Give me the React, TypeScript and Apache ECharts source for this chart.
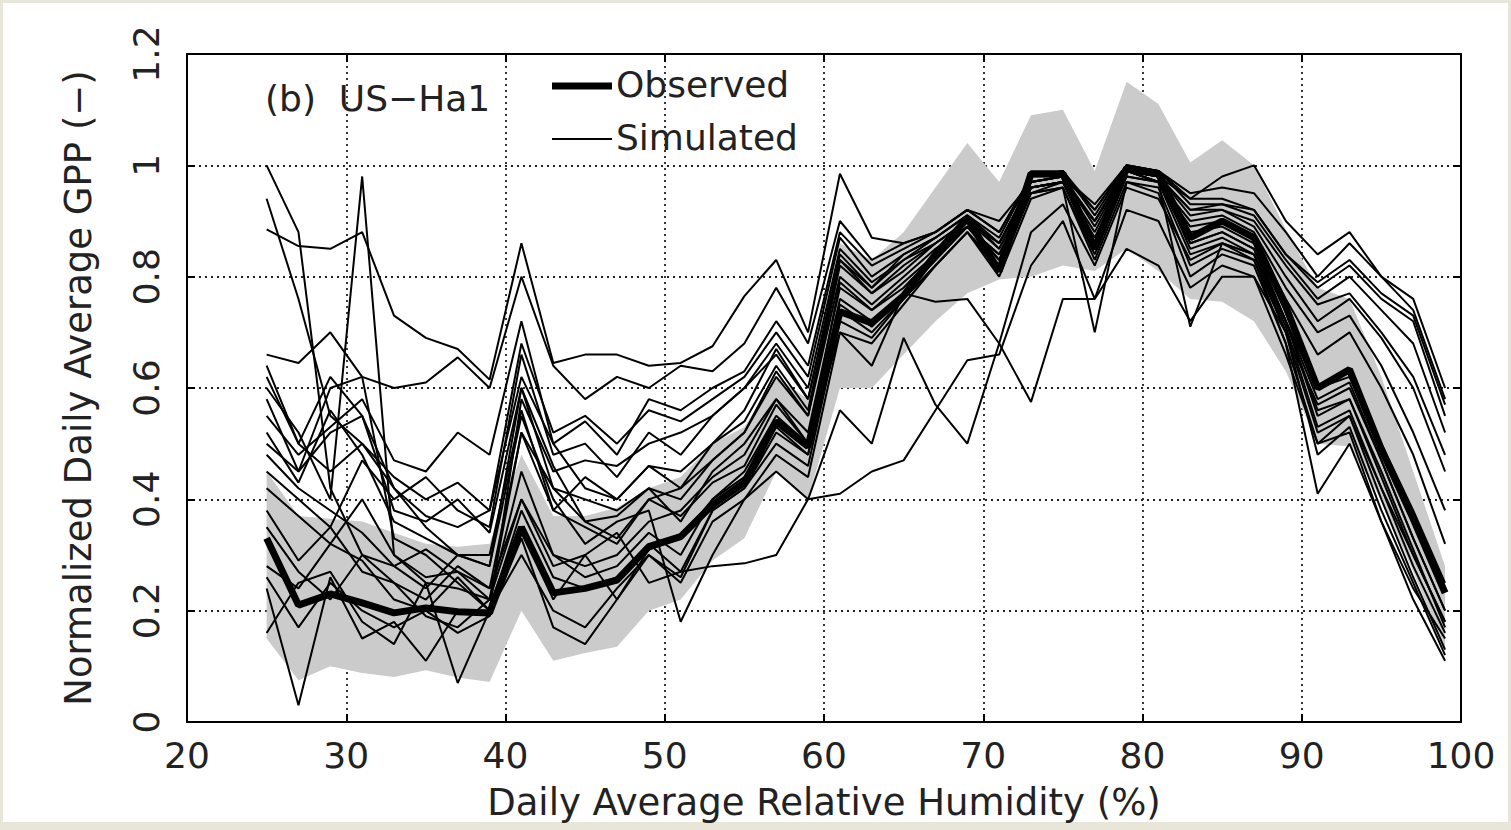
import React, { useEffect, useRef } from "react";
import * as echarts from "echarts";

const humidity = [25,27,29,31,33,35,37,39,41,43,45,47,49,51,53,55,57,59,61,63,65,67,69,71,73,75,77,79,81,83,85,87,89,91,93,95,97,99];

const observed = [0.33,0.21,0.23,0.214,0.196,0.205,0.198,0.196,0.35,0.232,0.24,0.255,0.315,0.333,0.39,0.43,0.54,0.495,0.737,0.717,0.766,0.84,0.905,0.81,0.985,0.985,0.85,0.995,0.985,0.87,0.9,0.87,0.746,0.6,0.633,0.49,0.365,0.232];

const bandUpper = [0.45,0.37,0.365,0.36,0.34,0.32,0.315,0.32,0.48,0.37,0.37,0.385,0.42,0.44,0.5,0.53,0.62,0.58,0.86,0.83,0.88,0.96,1.04,0.97,1.09,1.1,0.99,1.15,1.11,1.005,1.045,1.0,0.885,0.78,0.76,0.62,0.45,0.28];
const bandLower = [0.15,0.075,0.1,0.088,0.081,0.093,0.08,0.072,0.2,0.11,0.124,0.135,0.2,0.22,0.29,0.33,0.45,0.4,0.6,0.6,0.66,0.72,0.77,0.795,0.8,0.82,0.81,0.85,0.81,0.76,0.755,0.72,0.63,0.5,0.495,0.4,0.27,0.13];

const sim01 = [1.00,0.88,0.42,0.30,0.28,0.31,0.27,0.22,0.52,0.42,0.36,0.33,0.40,0.42,0.47,0.52,0.63,0.55,0.80,0.75,0.80,0.85,0.89,0.84,0.95,0.97,0.87,0.99,0.97,0.88,0.89,0.86,0.72,0.58,0.61,0.47,0.33,0.20];
const sim02 = [0.94,0.76,0.55,0.50,0.44,0.40,0.43,0.38,0.62,0.50,0.42,0.40,0.46,0.45,0.50,0.56,0.67,0.58,0.84,0.78,0.83,0.87,0.91,0.86,0.96,0.97,0.90,1.00,0.98,0.92,0.92,0.90,0.82,0.75,0.77,0.70,0.62,0.48];
const sim03 = [0.885,0.855,0.85,0.88,0.73,0.69,0.67,0.615,0.86,0.645,0.66,0.66,0.64,0.645,0.675,0.765,0.83,0.70,0.985,0.87,0.86,0.88,0.92,0.90,0.97,0.98,0.93,1.00,0.99,0.95,0.96,0.95,0.88,0.80,0.86,0.80,0.74,0.58];
const sim04 = [0.60,0.52,0.40,0.98,0.30,0.25,0.24,0.22,0.45,0.30,0.28,0.30,0.36,0.38,0.44,0.48,0.58,0.52,0.78,0.74,0.79,0.84,0.90,0.83,0.97,0.98,0.86,0.99,0.98,0.86,0.88,0.85,0.72,0.56,0.58,0.44,0.30,0.18];
const sim05 = [0.66,0.645,0.70,0.62,0.60,0.61,0.655,0.60,0.80,0.64,0.58,0.62,0.60,0.64,0.63,0.68,0.78,0.68,0.90,0.83,0.86,0.88,0.92,0.88,0.98,0.99,0.91,1.00,0.99,0.93,0.93,0.92,0.84,0.78,0.82,0.76,0.72,0.55];
const sim06 = [0.64,0.50,0.62,0.55,0.42,0.37,0.35,0.38,0.68,0.52,0.55,0.50,0.56,0.54,0.58,0.62,0.70,0.62,0.87,0.80,0.84,0.87,0.91,0.87,0.98,0.98,0.92,1.00,0.98,0.92,0.93,0.91,0.83,0.76,0.80,0.74,0.68,0.52];
const sim07 = [0.58,0.45,0.60,0.62,0.33,0.30,0.25,0.20,0.58,0.45,0.47,0.46,0.50,0.52,0.55,0.60,0.68,0.60,0.85,0.79,0.83,0.86,0.90,0.86,0.97,0.98,0.90,0.99,0.97,0.90,0.91,0.88,0.78,0.70,0.73,0.64,0.52,0.38];
const sim08 = [0.55,0.48,0.53,0.58,0.47,0.45,0.52,0.48,0.72,0.50,0.54,0.48,0.58,0.56,0.60,0.63,0.72,0.64,0.88,0.82,0.85,0.88,0.92,0.88,0.98,0.99,0.92,1.00,0.99,0.94,0.94,0.92,0.84,0.79,0.83,0.77,0.73,0.57];
const sim09 = [0.52,0.43,0.56,0.48,0.36,0.33,0.30,0.28,0.60,0.46,0.36,0.37,0.42,0.40,0.47,0.52,0.62,0.55,0.82,0.77,0.81,0.86,0.90,0.85,0.96,0.97,0.88,0.99,0.97,0.89,0.90,0.87,0.76,0.66,0.70,0.60,0.48,0.32];
const sim10 = [0.45,0.40,0.35,0.47,0.40,0.44,0.38,0.35,0.66,0.48,0.50,0.44,0.52,0.48,0.55,0.60,0.66,0.58,0.83,0.77,0.82,0.86,0.90,0.86,0.97,0.98,0.89,0.99,0.98,0.91,0.92,0.89,0.80,0.72,0.76,0.69,0.60,0.45];
const sim11 = [0.42,0.37,0.32,0.40,0.30,0.26,0.27,0.24,0.52,0.38,0.35,0.32,0.40,0.37,0.43,0.46,0.57,0.50,0.79,0.74,0.78,0.84,0.89,0.84,0.96,0.97,0.86,0.99,0.97,0.86,0.88,0.85,0.72,0.55,0.58,0.45,0.31,0.17];
const sim12 = [0.38,0.29,0.35,0.27,0.25,0.22,0.28,0.24,0.40,0.30,0.26,0.28,0.34,0.30,0.40,0.45,0.55,0.50,0.76,0.72,0.77,0.83,0.89,0.83,0.96,0.97,0.85,0.99,0.98,0.85,0.87,0.84,0.70,0.52,0.55,0.40,0.26,0.13];
const sim13 = [0.28,0.24,0.32,0.29,0.22,0.20,0.26,0.20,0.38,0.26,0.24,0.26,0.32,0.27,0.38,0.42,0.52,0.48,0.74,0.70,0.76,0.82,0.88,0.82,0.95,0.96,0.84,0.98,0.97,0.71,0.86,0.83,0.70,0.48,0.53,0.38,0.25,0.12];
const sim14 = [0.26,0.17,0.25,0.20,0.17,0.20,0.16,0.19,0.33,0.17,0.14,0.22,0.30,0.25,0.36,0.40,0.48,0.44,0.70,0.68,0.75,0.82,0.88,0.80,0.94,0.96,0.70,0.97,0.95,0.80,0.84,0.82,0.68,0.41,0.50,0.36,0.24,0.15];
const sim15 = [0.24,0.03,0.26,0.15,0.18,0.11,0.20,0.20,0.30,0.20,0.17,0.24,0.30,0.26,0.38,0.42,0.50,0.46,0.72,0.69,0.76,0.82,0.88,0.81,0.95,0.96,0.83,0.97,0.96,0.82,0.85,0.83,0.68,0.50,0.52,0.36,0.22,0.11];
const sim16 = [0.16,0.25,0.27,0.18,0.14,0.25,0.07,0.20,0.35,0.22,0.30,0.22,0.31,0.33,0.40,0.44,0.53,0.48,0.75,0.71,0.77,0.83,0.89,0.82,0.96,0.97,0.85,0.98,0.97,0.84,0.86,0.84,0.71,0.53,0.56,0.42,0.28,0.16];
const sim17 = [0.35,0.27,0.22,0.30,0.25,0.19,0.17,0.22,0.40,0.28,0.30,0.34,0.25,0.27,0.28,0.285,0.30,0.40,0.41,0.45,0.47,0.56,0.65,0.66,0.82,0.90,0.76,0.92,0.90,0.78,0.82,0.80,0.66,0.50,0.55,0.42,0.30,0.18];
const sim18 = [0.62,0.50,0.45,0.50,0.42,0.35,0.30,0.28,0.55,0.40,0.32,0.36,0.38,0.18,0.30,0.40,0.45,0.40,0.56,0.50,0.69,0.57,0.50,0.68,0.88,0.93,0.82,0.96,0.94,0.83,0.86,0.84,0.72,0.60,0.62,0.50,0.38,0.25];
const sim19 = [0.50,0.45,0.52,0.55,0.38,0.36,0.40,0.34,0.60,0.42,0.40,0.38,0.42,0.36,0.45,0.50,0.58,0.50,0.70,0.64,0.77,0.755,0.76,0.68,0.575,0.76,0.76,0.85,0.82,0.72,0.80,0.80,0.70,0.57,0.60,0.47,0.33,0.20];
const sim20 = [0.48,0.42,0.38,0.34,0.28,0.24,0.30,0.30,0.56,0.38,0.44,0.40,0.46,0.42,0.50,0.54,0.64,0.56,0.83,0.78,0.84,0.87,0.91,0.85,0.96,0.97,0.90,0.99,0.98,0.94,0.98,1.00,0.90,0.84,0.88,0.80,0.76,0.60];

const simulated = [sim01,sim02,sim03,sim04,sim05,sim06,sim07,sim08,sim09,sim10,sim11,sim12,sim13,sim14,sim15,sim16,sim17,sim18,sim19,sim20];

const FONT = "'DejaVu Sans', sans-serif";

export default function App() {
  const ref = useRef<HTMLDivElement>(null);
  useEffect(() => {
    if (!ref.current) return;
    const chart = echarts.init(ref.current, null, { renderer: "svg" });
    const pair = (arr: number[]) => humidity.map((h, i) => [h, arr[i]]);
    const axisCommon = {
      type: "value" as const,
      axisLine: { show: true, onZero: false, lineStyle: { color: "#000", width: 2 } },
      axisTick: { show: true, inside: true, length: 8, lineStyle: { color: "#000", width: 2 } },
    };
    const bandData = humidity.map((h, i) => [h, bandLower[i], bandUpper[i]]);
    const series: any[] = [
      {
        type: "custom",
        name: "band",
        silent: true,
        z: 1,
        data: bandData,
        encode: { x: 0, y: [1, 2] },
        renderItem: (params: any, api: any) => {
          if (params.dataIndex !== 0) return null;
          const top = bandData.map((d) => api.coord([d[0], d[2]]));
          const bottom = bandData.map((d) => api.coord([d[0], d[1]])).reverse();
          return {
            type: "polygon",
            shape: { points: top.concat(bottom) },
            style: { fill: "#cbcbcb", stroke: "none" },
          };
        },
      },
      ...simulated.map((s, k) => ({
        type: "line", name: "Simulated " + (k + 1), data: pair(s), symbol: "none",
        lineStyle: { color: "#000", width: 2 }, z: 3,
      })),
      {
        type: "line", name: "Observed", data: pair(observed), symbol: "none",
        lineStyle: { color: "#000", width: 7 }, z: 4,
      },
    ];
    chart.setOption({
      animation: false,
      backgroundColor: "transparent",
      grid: { left: 187, right: 50, top: 54, bottom: 108, containLabel: false },
      xAxis: [
        {
          ...axisCommon, min: 20, max: 100, interval: 10, position: "bottom",
          axisLabel: { color: "#222", fontSize: 36, fontFamily: FONT, margin: 15, showMinLabel: true, showMaxLabel: true },
          splitLine: { show: true, lineStyle: { color: "#222", width: 1.8, type: [2, 4] } },
          name: "Daily Average Relative Humidity (%)", nameLocation: "middle", nameGap: 62,
          nameTextStyle: { color: "#222", fontSize: 37, fontFamily: FONT },
        },
        {
          ...axisCommon, min: 20, max: 100, interval: 10, position: "top",
          axisLabel: { show: false }, splitLine: { show: false },
        },
      ],
      yAxis: [
        {
          ...axisCommon, min: 0, max: 1.2, interval: 0.2, position: "left",
          axisLabel: { color: "#222", fontSize: 36, fontFamily: FONT, rotate: 90, margin: 23, formatter: (v: number) => String(Math.round(v * 10) / 10) },
          splitLine: { show: true, lineStyle: { color: "#222", width: 1.8, type: [2, 4] } },
          name: "Normalized Daily Average GPP (−)", nameLocation: "middle", nameGap: 90, nameRotate: 90,
          nameTextStyle: { color: "#222", fontSize: 37, fontFamily: FONT },
        },
        {
          ...axisCommon, min: 0, max: 1.2, interval: 0.2, position: "right",
          axisLabel: { show: false }, splitLine: { show: false },
        },
      ],
      graphic: [
        { type: "rect", z: -10, silent: true, shape: { x: 3, y: 3, width: 1505, height: 819 }, style: { fill: "#ffffff" } },
        { type: "text", left: 265, top: 80, z: 10, style: { text: "(b)  US−Ha1", font: `36px ${FONT}`, fill: "#222" } },
        { type: "line", z: 10, shape: { x1: 552, y1: 86, x2: 612, y2: 86 }, style: { stroke: "#000", lineWidth: 7 } },
        { type: "text", left: 616, top: 66, z: 10, style: { text: "Observed", font: `36px ${FONT}`, fill: "#222" } },
        { type: "line", z: 10, shape: { x1: 552, y1: 139, x2: 612, y2: 139 }, style: { stroke: "#000", lineWidth: 2 } },
        { type: "text", left: 616, top: 119, z: 10, style: { text: "Simulated", font: `36px ${FONT}`, fill: "#222" } },
      ],
      series,
    });
    return () => chart.dispose();
  }, []);
  return (
    <div
      ref={ref}
      style={{ position: "fixed", left: 0, top: 0, width: 1511, height: 830, background: "#e8e6d8" }}
    />
  );
}
